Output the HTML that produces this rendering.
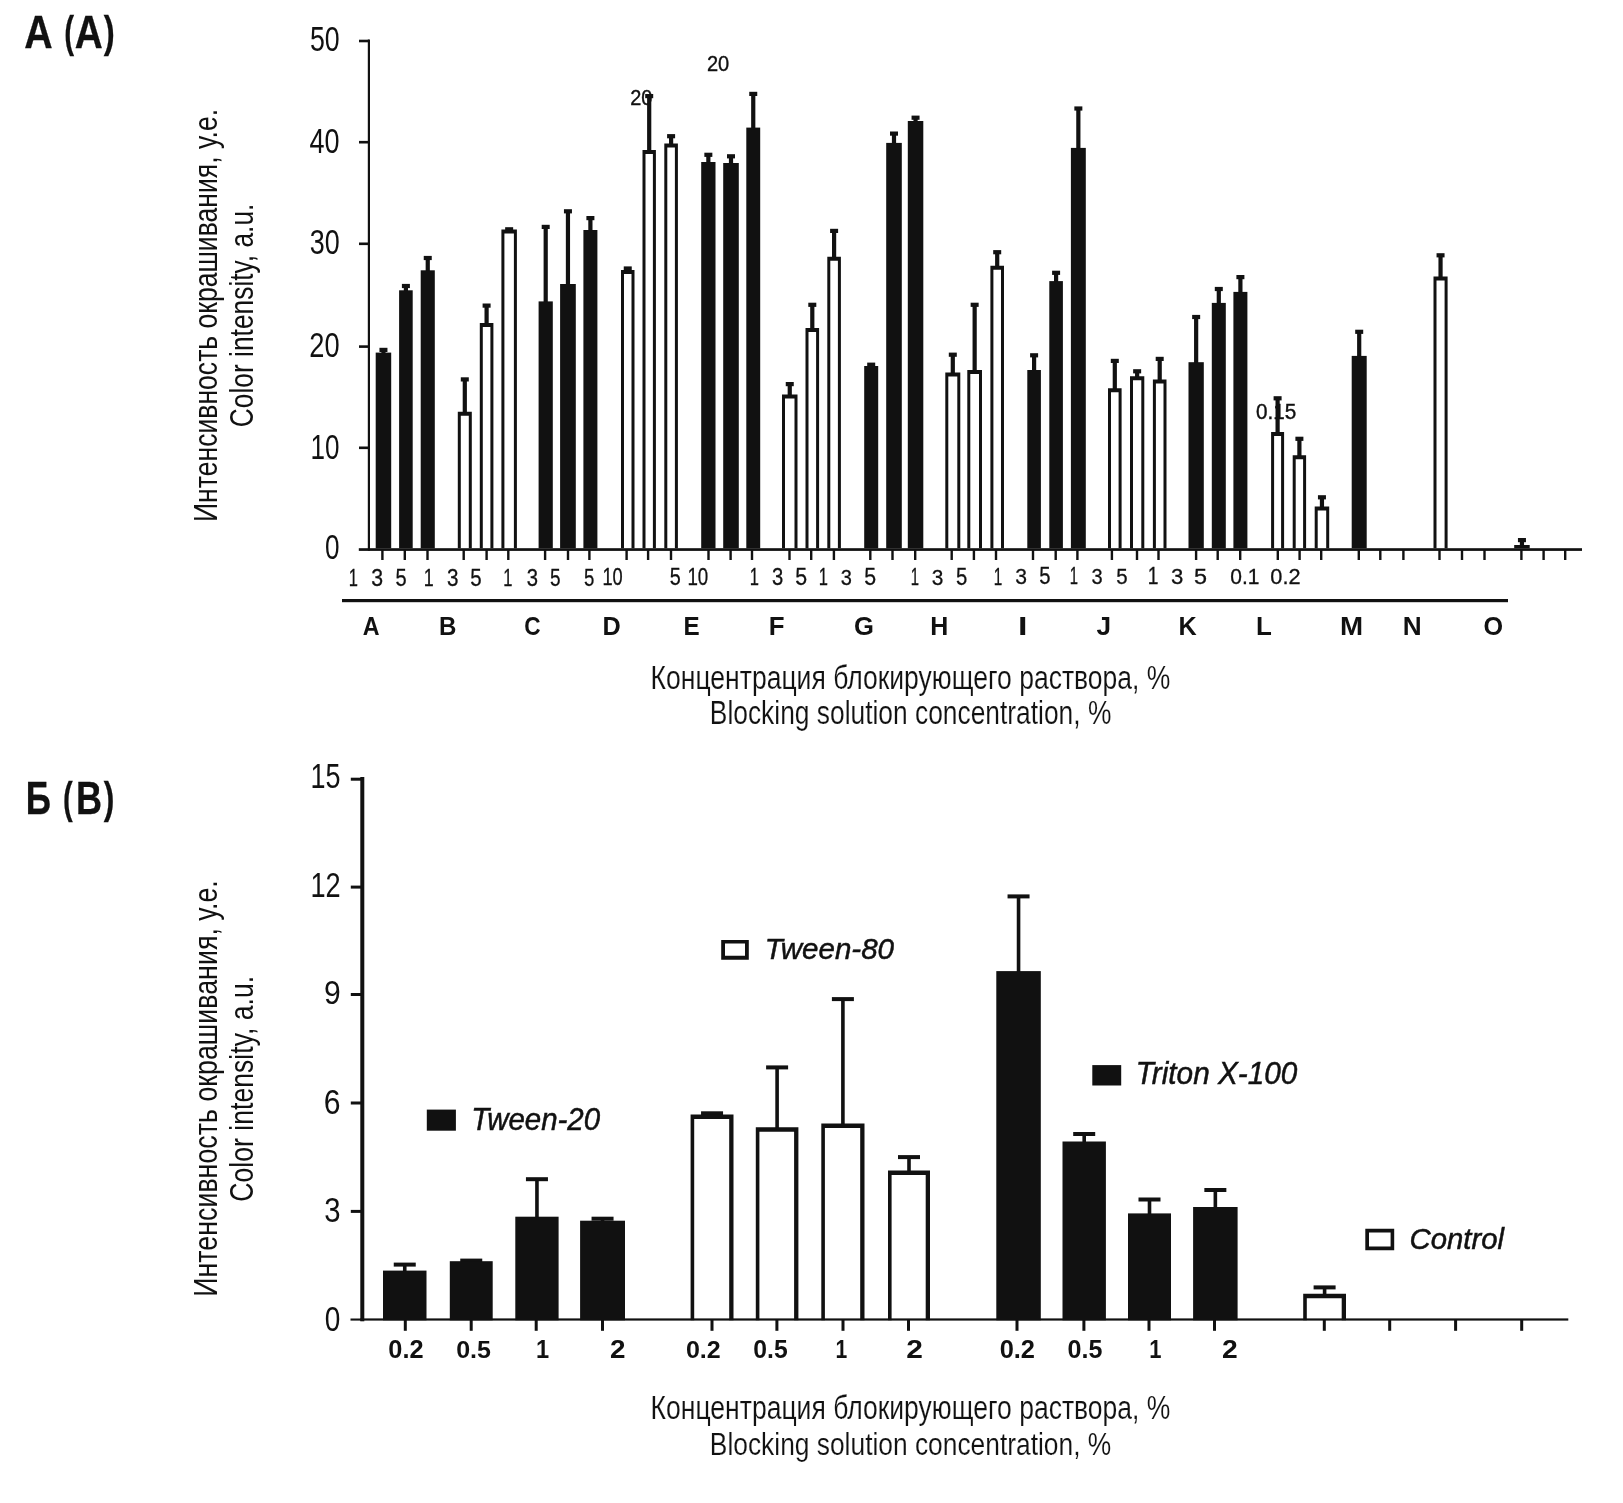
<!DOCTYPE html>
<html><head><meta charset="utf-8"><style>
html,body{margin:0;padding:0;background:#fff;}
svg{display:block;will-change:transform;}
text{font-family:"Liberation Sans",sans-serif;fill:#111;}
</style></head><body>
<svg width="1623" height="1503" viewBox="0 0 1623 1503">
<rect width="1623" height="1503" fill="#fff"/>
<text transform="translate(630.20,104.78) scale(0.9168,1)" font-size="21.75" font-weight="normal" font-style="normal" stroke="#111" stroke-width="0.4">20</text>
<text transform="translate(706.90,71.28) scale(0.9153,1)" font-size="21.89" font-weight="normal" font-style="normal" stroke="#111" stroke-width="0.4">20</text>
<text transform="translate(1256.09,418.89) scale(0.9704,1)" font-size="21.33" font-weight="normal" font-style="normal" stroke="#111" stroke-width="0.4">0.15</text>
<rect x="381.35" y="349.80" width="4.20" height="3.80" fill="#111"/>
<rect x="379.45" y="347.80" width="8.00" height="4.20" fill="#111"/>
<rect x="375.70" y="352.60" width="15.50" height="195.70" fill="#111"/>
<rect x="403.80" y="285.90" width="4.20" height="5.40" fill="#111"/>
<rect x="401.90" y="283.90" width="8.00" height="4.20" fill="#111"/>
<rect x="399.10" y="290.30" width="13.60" height="258.00" fill="#111"/>
<rect x="425.65" y="257.90" width="4.20" height="13.40" fill="#111"/>
<rect x="423.75" y="255.90" width="8.00" height="4.20" fill="#111"/>
<rect x="420.70" y="270.30" width="14.10" height="278.00" fill="#111"/>
<rect x="462.70" y="379.30" width="4.20" height="33.40" fill="#111"/>
<rect x="460.80" y="377.30" width="8.00" height="4.20" fill="#111"/>
<path fill="#111" fill-rule="evenodd" d="M457.80 411.70H471.80V548.30H457.80Z M460.80 415.70H468.80V548.30H460.80Z"/>
<rect x="484.50" y="305.50" width="4.20" height="18.60" fill="#111"/>
<rect x="482.60" y="303.50" width="8.00" height="4.20" fill="#111"/>
<path fill="#111" fill-rule="evenodd" d="M479.80 323.10H493.40V548.30H479.80Z M482.80 327.10H490.40V548.30H482.80Z"/>
<rect x="507.05" y="229.20" width="4.20" height="1.40" fill="#111"/>
<rect x="505.15" y="227.20" width="8.00" height="4.20" fill="#111"/>
<path fill="#111" fill-rule="evenodd" d="M501.40 229.60H516.90V548.30H501.40Z M504.40 233.60H513.90V548.30H504.40Z"/>
<rect x="543.60" y="226.80" width="4.20" height="75.60" fill="#111"/>
<rect x="541.70" y="224.80" width="8.00" height="4.20" fill="#111"/>
<rect x="538.60" y="301.40" width="14.20" height="246.90" fill="#111"/>
<rect x="565.85" y="211.20" width="4.20" height="73.80" fill="#111"/>
<rect x="563.95" y="209.20" width="8.00" height="4.20" fill="#111"/>
<rect x="560.10" y="284.00" width="15.70" height="264.30" fill="#111"/>
<rect x="588.30" y="218.00" width="4.20" height="13.00" fill="#111"/>
<rect x="586.40" y="216.00" width="8.00" height="4.20" fill="#111"/>
<rect x="583.40" y="230.00" width="14.00" height="318.30" fill="#111"/>
<rect x="625.65" y="268.40" width="4.20" height="2.60" fill="#111"/>
<rect x="623.75" y="266.40" width="8.00" height="4.20" fill="#111"/>
<path fill="#111" fill-rule="evenodd" d="M621.00 270.00H634.50V548.30H621.00Z M624.00 274.00H631.50V548.30H624.00Z"/>
<rect x="647.10" y="96.00" width="4.20" height="55.00" fill="#111"/>
<rect x="645.20" y="94.00" width="8.00" height="4.20" fill="#111"/>
<path fill="#111" fill-rule="evenodd" d="M642.50 150.00H655.90V548.30H642.50Z M645.50 154.00H652.90V548.30H645.50Z"/>
<rect x="669.00" y="136.10" width="4.20" height="8.30" fill="#111"/>
<rect x="667.10" y="134.10" width="8.00" height="4.20" fill="#111"/>
<path fill="#111" fill-rule="evenodd" d="M664.30 143.40H677.90V548.30H664.30Z M667.30 147.40H674.90V548.30H667.30Z"/>
<rect x="706.25" y="154.70" width="4.20" height="8.30" fill="#111"/>
<rect x="704.35" y="152.70" width="8.00" height="4.20" fill="#111"/>
<rect x="701.20" y="162.00" width="14.30" height="386.30" fill="#111"/>
<rect x="728.90" y="156.20" width="4.20" height="7.80" fill="#111"/>
<rect x="727.00" y="154.20" width="8.00" height="4.20" fill="#111"/>
<rect x="723.20" y="163.00" width="15.60" height="385.30" fill="#111"/>
<rect x="751.15" y="93.80" width="4.20" height="34.80" fill="#111"/>
<rect x="749.25" y="91.80" width="8.00" height="4.20" fill="#111"/>
<rect x="746.30" y="127.60" width="13.90" height="420.70" fill="#111"/>
<rect x="787.65" y="384.00" width="4.20" height="11.50" fill="#111"/>
<rect x="785.75" y="382.00" width="8.00" height="4.20" fill="#111"/>
<path fill="#111" fill-rule="evenodd" d="M782.00 394.50H797.50V548.30H782.00Z M785.00 398.50H794.50V548.30H785.00Z"/>
<rect x="810.20" y="304.70" width="4.20" height="24.30" fill="#111"/>
<rect x="808.30" y="302.70" width="8.00" height="4.20" fill="#111"/>
<path fill="#111" fill-rule="evenodd" d="M805.50 328.00H819.10V548.30H805.50Z M808.50 332.00H816.10V548.30H808.50Z"/>
<rect x="832.00" y="230.80" width="4.20" height="26.90" fill="#111"/>
<rect x="830.10" y="228.80" width="8.00" height="4.20" fill="#111"/>
<path fill="#111" fill-rule="evenodd" d="M827.30 256.70H840.90V548.30H827.30Z M830.30 260.70H837.90V548.30H830.30Z"/>
<rect x="869.10" y="364.60" width="4.20" height="2.40" fill="#111"/>
<rect x="867.20" y="362.60" width="8.00" height="4.20" fill="#111"/>
<rect x="864.20" y="366.00" width="14.00" height="182.30" fill="#111"/>
<rect x="891.90" y="133.50" width="4.20" height="10.40" fill="#111"/>
<rect x="890.00" y="131.50" width="8.00" height="4.20" fill="#111"/>
<rect x="886.20" y="142.90" width="15.60" height="405.40" fill="#111"/>
<rect x="913.45" y="117.60" width="4.20" height="4.40" fill="#111"/>
<rect x="911.55" y="115.60" width="8.00" height="4.20" fill="#111"/>
<rect x="907.80" y="121.00" width="15.50" height="427.30" fill="#111"/>
<rect x="950.70" y="354.60" width="4.20" height="19.00" fill="#111"/>
<rect x="948.80" y="352.60" width="8.00" height="4.20" fill="#111"/>
<path fill="#111" fill-rule="evenodd" d="M945.30 372.60H960.30V548.30H945.30Z M948.30 376.60H957.30V548.30H948.30Z"/>
<rect x="972.55" y="304.70" width="4.20" height="66.30" fill="#111"/>
<rect x="970.65" y="302.70" width="8.00" height="4.20" fill="#111"/>
<path fill="#111" fill-rule="evenodd" d="M967.30 370.00H982.00V548.30H967.30Z M970.30 374.00H979.00V548.30H970.30Z"/>
<rect x="995.10" y="252.10" width="4.20" height="14.60" fill="#111"/>
<rect x="993.20" y="250.10" width="8.00" height="4.20" fill="#111"/>
<path fill="#111" fill-rule="evenodd" d="M990.40 265.70H1004.00V548.30H990.40Z M993.40 269.70H1001.00V548.30H993.40Z"/>
<rect x="1032.00" y="355.20" width="4.20" height="15.80" fill="#111"/>
<rect x="1030.10" y="353.20" width="8.00" height="4.20" fill="#111"/>
<rect x="1027.30" y="370.00" width="13.60" height="178.30" fill="#111"/>
<rect x="1054.00" y="272.70" width="4.20" height="9.40" fill="#111"/>
<rect x="1052.10" y="270.70" width="8.00" height="4.20" fill="#111"/>
<rect x="1049.30" y="281.10" width="13.60" height="267.20" fill="#111"/>
<rect x="1076.25" y="108.40" width="4.20" height="40.50" fill="#111"/>
<rect x="1074.35" y="106.40" width="8.00" height="4.20" fill="#111"/>
<rect x="1070.90" y="147.90" width="14.90" height="400.40" fill="#111"/>
<rect x="1112.70" y="360.80" width="4.20" height="28.40" fill="#111"/>
<rect x="1110.80" y="358.80" width="8.00" height="4.20" fill="#111"/>
<path fill="#111" fill-rule="evenodd" d="M1108.00 388.20H1121.60V548.30H1108.00Z M1111.00 392.20H1118.60V548.30H1111.00Z"/>
<rect x="1135.05" y="371.20" width="4.20" height="6.00" fill="#111"/>
<rect x="1133.15" y="369.20" width="8.00" height="4.20" fill="#111"/>
<path fill="#111" fill-rule="evenodd" d="M1130.00 376.20H1144.30V548.30H1130.00Z M1133.00 380.20H1141.30V548.30H1133.00Z"/>
<rect x="1157.60" y="358.80" width="4.20" height="21.60" fill="#111"/>
<rect x="1155.70" y="356.80" width="8.00" height="4.20" fill="#111"/>
<path fill="#111" fill-rule="evenodd" d="M1152.90 379.40H1166.50V548.30H1152.90Z M1155.90 383.40H1163.50V548.30H1155.90Z"/>
<rect x="1194.05" y="316.90" width="4.20" height="46.30" fill="#111"/>
<rect x="1192.15" y="314.90" width="8.00" height="4.20" fill="#111"/>
<rect x="1188.50" y="362.20" width="15.30" height="186.10" fill="#111"/>
<rect x="1216.70" y="288.90" width="4.20" height="15.00" fill="#111"/>
<rect x="1214.80" y="286.90" width="8.00" height="4.20" fill="#111"/>
<rect x="1211.80" y="302.90" width="14.00" height="245.40" fill="#111"/>
<rect x="1238.30" y="277.00" width="4.20" height="15.90" fill="#111"/>
<rect x="1236.40" y="275.00" width="8.00" height="4.20" fill="#111"/>
<rect x="1233.40" y="291.90" width="14.00" height="256.40" fill="#111"/>
<rect x="1275.50" y="398.20" width="4.20" height="34.90" fill="#111"/>
<rect x="1273.60" y="396.20" width="8.00" height="4.20" fill="#111"/>
<path fill="#111" fill-rule="evenodd" d="M1271.10 432.10H1284.10V548.30H1271.10Z M1274.10 436.10H1281.10V548.30H1274.10Z"/>
<rect x="1297.30" y="438.70" width="4.20" height="17.60" fill="#111"/>
<rect x="1295.40" y="436.70" width="8.00" height="4.20" fill="#111"/>
<path fill="#111" fill-rule="evenodd" d="M1292.70 455.30H1306.10V548.30H1292.70Z M1295.70 459.30H1303.10V548.30H1295.70Z"/>
<rect x="1319.85" y="497.20" width="4.20" height="10.40" fill="#111"/>
<rect x="1317.95" y="495.20" width="8.00" height="4.20" fill="#111"/>
<path fill="#111" fill-rule="evenodd" d="M1314.70 506.60H1329.20V548.30H1314.70Z M1317.70 510.60H1326.20V548.30H1317.70Z"/>
<rect x="1357.10" y="331.70" width="4.20" height="25.20" fill="#111"/>
<rect x="1355.20" y="329.70" width="8.00" height="4.20" fill="#111"/>
<rect x="1351.70" y="355.90" width="15.00" height="192.40" fill="#111"/>
<rect x="1438.45" y="255.20" width="4.20" height="22.40" fill="#111"/>
<rect x="1436.55" y="253.20" width="8.00" height="4.20" fill="#111"/>
<path fill="#111" fill-rule="evenodd" d="M1433.50 276.60H1447.60V548.30H1433.50Z M1436.50 280.60H1444.60V548.30H1436.50Z"/>
<rect x="1519.85" y="540.00" width="4.20" height="6.00" fill="#111"/>
<rect x="1517.95" y="538.00" width="8.00" height="4.20" fill="#111"/>
<rect x="1514.20" y="545.00" width="15.50" height="3.30" fill="#111"/>
<rect x="367.80" y="39.50" width="2.20" height="511.30" fill="#111"/>
<rect x="358.80" y="548.20" width="1223.20" height="2.70" fill="#111"/>
<rect x="359.00" y="39.70" width="10.00" height="2.60" fill="#111"/>
<rect x="359.00" y="140.90" width="10.00" height="2.60" fill="#111"/>
<rect x="359.00" y="242.50" width="10.00" height="2.60" fill="#111"/>
<rect x="359.00" y="345.30" width="10.00" height="2.60" fill="#111"/>
<rect x="359.00" y="446.50" width="10.00" height="2.60" fill="#111"/>
<rect x="381.20" y="550.00" width="2.40" height="10.00" fill="#111"/>
<rect x="403.60" y="550.00" width="2.40" height="10.00" fill="#111"/>
<rect x="426.30" y="550.00" width="2.40" height="10.00" fill="#111"/>
<rect x="462.50" y="550.00" width="2.40" height="10.00" fill="#111"/>
<rect x="485.40" y="550.00" width="2.40" height="10.00" fill="#111"/>
<rect x="507.10" y="550.00" width="2.40" height="10.00" fill="#111"/>
<rect x="543.90" y="550.00" width="2.40" height="10.00" fill="#111"/>
<rect x="566.80" y="550.00" width="2.40" height="10.00" fill="#111"/>
<rect x="588.20" y="550.00" width="2.40" height="10.00" fill="#111"/>
<rect x="625.40" y="550.00" width="2.40" height="10.00" fill="#111"/>
<rect x="646.90" y="550.00" width="2.40" height="10.00" fill="#111"/>
<rect x="669.80" y="550.00" width="2.40" height="10.00" fill="#111"/>
<rect x="707.30" y="550.00" width="2.40" height="10.00" fill="#111"/>
<rect x="729.40" y="550.00" width="2.40" height="10.00" fill="#111"/>
<rect x="750.80" y="550.00" width="2.40" height="10.00" fill="#111"/>
<rect x="788.30" y="550.00" width="2.40" height="10.00" fill="#111"/>
<rect x="810.00" y="550.00" width="2.40" height="10.00" fill="#111"/>
<rect x="832.70" y="550.00" width="2.40" height="10.00" fill="#111"/>
<rect x="869.10" y="550.00" width="2.40" height="10.00" fill="#111"/>
<rect x="891.30" y="550.00" width="2.40" height="10.00" fill="#111"/>
<rect x="914.00" y="550.00" width="2.40" height="10.00" fill="#111"/>
<rect x="950.50" y="550.00" width="2.40" height="10.00" fill="#111"/>
<rect x="972.70" y="550.00" width="2.40" height="10.00" fill="#111"/>
<rect x="994.80" y="550.00" width="2.40" height="10.00" fill="#111"/>
<rect x="1031.80" y="550.00" width="2.40" height="10.00" fill="#111"/>
<rect x="1054.50" y="550.00" width="2.40" height="10.00" fill="#111"/>
<rect x="1076.20" y="550.00" width="2.40" height="10.00" fill="#111"/>
<rect x="1110.70" y="550.00" width="2.40" height="10.00" fill="#111"/>
<rect x="1135.80" y="550.00" width="2.40" height="10.00" fill="#111"/>
<rect x="1157.30" y="550.00" width="2.40" height="10.00" fill="#111"/>
<rect x="1194.90" y="550.00" width="2.40" height="10.00" fill="#111"/>
<rect x="1216.50" y="550.00" width="2.40" height="10.00" fill="#111"/>
<rect x="1239.00" y="550.00" width="2.40" height="10.00" fill="#111"/>
<rect x="1276.60" y="550.00" width="2.40" height="10.00" fill="#111"/>
<rect x="1298.40" y="550.00" width="2.40" height="10.00" fill="#111"/>
<rect x="1320.00" y="550.00" width="2.40" height="10.00" fill="#111"/>
<rect x="1357.60" y="550.00" width="2.40" height="10.00" fill="#111"/>
<rect x="1379.10" y="550.00" width="2.40" height="10.00" fill="#111"/>
<rect x="1402.20" y="550.00" width="2.40" height="10.00" fill="#111"/>
<rect x="1438.30" y="550.00" width="2.40" height="10.00" fill="#111"/>
<rect x="1460.80" y="550.00" width="2.40" height="10.00" fill="#111"/>
<rect x="1483.30" y="550.00" width="2.40" height="10.00" fill="#111"/>
<rect x="1520.20" y="550.00" width="2.40" height="10.00" fill="#111"/>
<rect x="1542.40" y="550.00" width="2.40" height="10.00" fill="#111"/>
<rect x="1564.00" y="550.00" width="2.40" height="10.00" fill="#111"/>
<rect x="342.00" y="599.00" width="1166.00" height="3.20" fill="#111"/>
<text transform="translate(309.93,50.65) scale(0.7567,1)" font-size="35.31" font-weight="normal" font-style="normal">50</text>
<text transform="translate(309.58,152.74) scale(0.7599,1)" font-size="35.59" font-weight="normal" font-style="normal">40</text>
<text transform="translate(309.68,254.15) scale(0.7758,1)" font-size="34.75" font-weight="normal" font-style="normal">30</text>
<text transform="translate(309.34,356.65) scale(0.7693,1)" font-size="35.45" font-weight="normal" font-style="normal">20</text>
<text transform="translate(310.62,458.64) scale(0.7327,1)" font-size="35.59" font-weight="normal" font-style="normal">10</text>
<text transform="translate(325.08,559.26) scale(0.7588,1)" font-size="34.46" font-weight="normal" font-style="normal">0</text>
<text transform="translate(348.80,586.44) scale(0.6788,1)" font-size="24.27" font-weight="normal" font-style="normal" stroke="#111" stroke-width="0.3">1</text>
<text transform="translate(371.34,586.14) scale(0.9047,1)" font-size="23.55" font-weight="normal" font-style="normal" stroke="#111" stroke-width="0.3">3</text>
<text transform="translate(395.55,586.07) scale(0.8400,1)" font-size="23.86" font-weight="normal" font-style="normal" stroke="#111" stroke-width="0.3">5</text>
<text transform="translate(423.79,586.23) scale(0.7391,1)" font-size="24.17" font-weight="normal" font-style="normal" stroke="#111" stroke-width="0.3">1</text>
<text transform="translate(447.06,585.93) scale(0.8813,1)" font-size="23.46" font-weight="normal" font-style="normal" stroke="#111" stroke-width="0.3">3</text>
<text transform="translate(470.33,585.86) scale(0.8611,1)" font-size="23.77" font-weight="normal" font-style="normal" stroke="#111" stroke-width="0.3">5</text>
<text transform="translate(503.30,586.01) scale(0.6844,1)" font-size="24.07" font-weight="normal" font-style="normal" stroke="#111" stroke-width="0.3">1</text>
<text transform="translate(526.68,585.71) scale(0.8670,1)" font-size="23.36" font-weight="normal" font-style="normal" stroke="#111" stroke-width="0.3">3</text>
<text transform="translate(550.09,585.64) scale(0.8024,1)" font-size="23.66" font-weight="normal" font-style="normal" stroke="#111" stroke-width="0.3">5</text>
<text transform="translate(584.11,585.55) scale(0.7860,1)" font-size="23.62" font-weight="normal" font-style="normal" stroke="#111" stroke-width="0.3">5</text>
<text transform="translate(602.46,585.49) scale(0.7849,1)" font-size="23.26" font-weight="normal" font-style="normal" stroke="#111" stroke-width="0.3">10</text>
<text transform="translate(669.66,585.31) scale(0.8435,1)" font-size="23.51" font-weight="normal" font-style="normal" stroke="#111" stroke-width="0.3">5</text>
<text transform="translate(687.42,585.25) scale(0.8102,1)" font-size="23.15" font-weight="normal" font-style="normal" stroke="#111" stroke-width="0.3">10</text>
<text transform="translate(749.70,585.33) scale(0.6936,1)" font-size="23.75" font-weight="normal" font-style="normal" stroke="#111" stroke-width="0.3">1</text>
<text transform="translate(771.88,585.03) scale(0.8786,1)" font-size="23.05" font-weight="normal" font-style="normal" stroke="#111" stroke-width="0.3">3</text>
<text transform="translate(795.20,584.96) scale(0.9125,1)" font-size="23.35" font-weight="normal" font-style="normal" stroke="#111" stroke-width="0.3">5</text>
<text transform="translate(818.70,585.13) scale(0.6962,1)" font-size="23.66" font-weight="normal" font-style="normal" stroke="#111" stroke-width="0.3">1</text>
<text transform="translate(840.69,584.84) scale(0.8727,1)" font-size="22.96" font-weight="normal" font-style="normal" stroke="#111" stroke-width="0.3">3</text>
<text transform="translate(864.20,584.77) scale(0.9160,1)" font-size="23.26" font-weight="normal" font-style="normal" stroke="#111" stroke-width="0.3">5</text>
<text transform="translate(910.72,584.88) scale(0.6307,1)" font-size="23.54" font-weight="normal" font-style="normal" stroke="#111" stroke-width="0.3">1</text>
<text transform="translate(931.76,584.59) scale(0.9141,1)" font-size="22.85" font-weight="normal" font-style="normal" stroke="#111" stroke-width="0.3">3</text>
<text transform="translate(955.94,584.52) scale(0.8750,1)" font-size="23.15" font-weight="normal" font-style="normal" stroke="#111" stroke-width="0.3">5</text>
<text transform="translate(993.79,584.65) scale(0.6534,1)" font-size="23.44" font-weight="normal" font-style="normal" stroke="#111" stroke-width="0.3">1</text>
<text transform="translate(1015.15,584.36) scale(0.9275,1)" font-size="22.75" font-weight="normal" font-style="normal" stroke="#111" stroke-width="0.3">3</text>
<text transform="translate(1039.24,584.29) scale(0.8790,1)" font-size="23.04" font-weight="normal" font-style="normal" stroke="#111" stroke-width="0.3">5</text>
<text transform="translate(1069.72,584.44) scale(0.6363,1)" font-size="23.34" font-weight="normal" font-style="normal" stroke="#111" stroke-width="0.3">1</text>
<text transform="translate(1091.59,584.15) scale(0.8849,1)" font-size="22.65" font-weight="normal" font-style="normal" stroke="#111" stroke-width="0.3">3</text>
<text transform="translate(1116.33,584.08) scale(0.8920,1)" font-size="22.94" font-weight="normal" font-style="normal" stroke="#111" stroke-width="0.3">5</text>
<text transform="translate(1147.69,584.22) scale(0.8288,1)" font-size="23.24" font-weight="normal" font-style="normal" stroke="#111" stroke-width="0.3">1</text>
<text transform="translate(1171.11,583.93) scale(0.9824,1)" font-size="22.55" font-weight="normal" font-style="normal" stroke="#111" stroke-width="0.3">3</text>
<text transform="translate(1194.11,583.86) scale(1.0252,1)" font-size="22.84" font-weight="normal" font-style="normal" stroke="#111" stroke-width="0.3">5</text>
<text transform="translate(1230.33,583.74) scale(0.9368,1)" font-size="22.46" font-weight="normal" font-style="normal" stroke="#111" stroke-width="0.3">0.1</text>
<text transform="translate(1270.30,583.63) scale(0.9705,1)" font-size="22.41" font-weight="normal" font-style="normal" stroke="#111" stroke-width="0.3">0.2</text>
<text transform="translate(362.82,634.80) scale(0.8986,1)" font-size="25.87" font-weight="bold" font-style="normal">A</text>
<text transform="translate(438.99,634.80) scale(0.9314,1)" font-size="25.87" font-weight="bold" font-style="normal">B</text>
<text transform="translate(524.37,634.80) scale(0.8747,1)" font-size="25.87" font-weight="bold" font-style="normal">C</text>
<text transform="translate(602.51,634.80) scale(0.9773,1)" font-size="25.87" font-weight="bold" font-style="normal">D</text>
<text transform="translate(683.38,634.80) scale(0.9370,1)" font-size="25.87" font-weight="bold" font-style="normal">E</text>
<text transform="translate(768.77,634.80) scale(0.9987,1)" font-size="25.87" font-weight="bold" font-style="normal">F</text>
<text transform="translate(853.95,634.80) scale(0.9906,1)" font-size="25.87" font-weight="bold" font-style="normal">G</text>
<text transform="translate(930.33,634.80) scale(0.9663,1)" font-size="25.87" font-weight="bold" font-style="normal">H</text>
<text transform="translate(1017.92,634.80) scale(1.3152,1)" font-size="25.87" font-weight="bold" font-style="normal">I</text>
<text transform="translate(1096.61,634.80) scale(1.0133,1)" font-size="25.87" font-weight="bold" font-style="normal">J</text>
<text transform="translate(1178.41,634.80) scale(0.9768,1)" font-size="25.87" font-weight="bold" font-style="normal">K</text>
<text transform="translate(1255.96,634.80) scale(1.0021,1)" font-size="25.87" font-weight="bold" font-style="normal">L</text>
<text transform="translate(1339.94,634.80) scale(1.0727,1)" font-size="25.87" font-weight="bold" font-style="normal">M</text>
<text transform="translate(1402.65,634.80) scale(1.0123,1)" font-size="25.87" font-weight="bold" font-style="normal">N</text>
<text transform="translate(1483.47,634.80) scale(0.9732,1)" font-size="25.87" font-weight="bold" font-style="normal">O</text>
<text transform="translate(24.32,47.60) scale(0.8380,1)" font-size="46.95" font-weight="bold" font-style="normal" stroke="#111" stroke-width="0.3">A</text>
<text transform="translate(64.13,47.32) scale(0.6665,1)" font-size="44.16" font-weight="bold" font-style="normal" stroke="#111" stroke-width="0.3">(</text>
<text transform="translate(74.63,47.60) scale(0.8253,1)" font-size="46.95" font-weight="bold" font-style="normal" stroke="#111" stroke-width="0.3">A</text>
<text transform="translate(103.67,47.32) scale(0.7468,1)" font-size="44.16" font-weight="bold" font-style="normal" stroke="#111" stroke-width="0.3">)</text>
<text transform="translate(650.62,689.00) scale(0.7868,1)" font-size="33.72" font-weight="normal" font-style="normal" stroke="#fff" stroke-width="0.15">Концентрация блокирующего раствора, %</text>
<text transform="translate(709.84,724.00) scale(0.7991,1)" font-size="32.99" font-weight="normal" font-style="normal" stroke="#fff" stroke-width="0.15">Blocking solution concentration, %</text>
<text transform="translate(217.00,521.98) rotate(-90) scale(0.7990,1)" font-size="33.28">Интенсивность окрашивания, у.е.</text>
<text transform="translate(252.60,427.24) rotate(-90) scale(0.7953,1)" font-size="33.14">Color intensity, a.u.</text>
<text transform="translate(25.85,813.50) scale(0.7515,1)" font-size="46.66" font-weight="bold" font-style="normal" stroke="#111" stroke-width="0.3">Б</text>
<text transform="translate(63.05,813.42) scale(0.6585,1)" font-size="44.16" font-weight="bold" font-style="normal" stroke="#111" stroke-width="0.3">(</text>
<text transform="translate(76.08,813.50) scale(0.7730,1)" font-size="46.66" font-weight="bold" font-style="normal" stroke="#111" stroke-width="0.3">В</text>
<text transform="translate(103.67,813.42) scale(0.7227,1)" font-size="44.16" font-weight="bold" font-style="normal" stroke="#111" stroke-width="0.3">)</text>
<rect x="360.30" y="777.00" width="4.00" height="544.30" fill="#111"/>
<rect x="360.30" y="1318.40" width="1208.00" height="2.20" fill="#111"/>
<rect x="350.80" y="777.70" width="11.20" height="3.00" fill="#111"/>
<rect x="350.80" y="885.60" width="11.20" height="3.00" fill="#111"/>
<rect x="350.80" y="993.00" width="11.20" height="3.00" fill="#111"/>
<rect x="350.80" y="1101.50" width="11.20" height="3.00" fill="#111"/>
<rect x="350.80" y="1209.90" width="11.20" height="3.00" fill="#111"/>
<rect x="350.50" y="1318.50" width="11.50" height="2.10" fill="#111"/>
<rect x="403.80" y="1320.00" width="3.00" height="10.80" fill="#111"/>
<rect x="469.70" y="1320.00" width="3.00" height="10.80" fill="#111"/>
<rect x="534.70" y="1320.00" width="3.00" height="10.80" fill="#111"/>
<rect x="601.00" y="1320.00" width="3.00" height="10.80" fill="#111"/>
<rect x="710.50" y="1320.00" width="3.00" height="10.80" fill="#111"/>
<rect x="775.40" y="1320.00" width="3.00" height="10.80" fill="#111"/>
<rect x="841.50" y="1320.00" width="3.00" height="10.80" fill="#111"/>
<rect x="907.00" y="1320.00" width="3.00" height="10.80" fill="#111"/>
<rect x="1015.50" y="1320.00" width="3.00" height="10.80" fill="#111"/>
<rect x="1082.40" y="1320.00" width="3.00" height="10.80" fill="#111"/>
<rect x="1147.50" y="1320.00" width="3.00" height="10.80" fill="#111"/>
<rect x="1213.00" y="1320.00" width="3.00" height="10.80" fill="#111"/>
<rect x="1322.80" y="1320.00" width="3.00" height="10.80" fill="#111"/>
<rect x="1388.20" y="1320.00" width="3.00" height="10.80" fill="#111"/>
<rect x="1454.10" y="1320.00" width="3.00" height="10.80" fill="#111"/>
<rect x="1520.20" y="1320.00" width="3.00" height="10.80" fill="#111"/>
<rect x="402.95" y="1264.60" width="3.60" height="7.00" fill="#111"/>
<rect x="393.75" y="1262.60" width="22.00" height="4.00" fill="#111"/>
<rect x="383.00" y="1270.60" width="43.50" height="49.70" fill="#111"/>
<rect x="469.45" y="1260.60" width="3.60" height="1.60" fill="#111"/>
<rect x="460.25" y="1258.60" width="22.00" height="4.00" fill="#111"/>
<rect x="449.80" y="1261.20" width="42.90" height="59.10" fill="#111"/>
<rect x="535.15" y="1179.20" width="3.60" height="38.50" fill="#111"/>
<rect x="525.95" y="1177.20" width="22.00" height="4.00" fill="#111"/>
<rect x="515.30" y="1216.70" width="43.30" height="103.60" fill="#111"/>
<rect x="600.75" y="1218.70" width="3.60" height="3.00" fill="#111"/>
<rect x="591.55" y="1216.70" width="22.00" height="4.00" fill="#111"/>
<rect x="580.10" y="1220.70" width="44.90" height="99.60" fill="#111"/>
<rect x="710.25" y="1113.30" width="3.60" height="2.10" fill="#111"/>
<rect x="701.05" y="1111.30" width="22.00" height="4.00" fill="#111"/>
<path fill="#111" fill-rule="evenodd" d="M690.60 1114.40H733.50V1320.30H690.60Z M694.20 1118.90H729.20V1320.30H694.20Z"/>
<rect x="775.30" y="1067.40" width="3.60" height="60.80" fill="#111"/>
<rect x="766.10" y="1065.40" width="22.00" height="4.00" fill="#111"/>
<path fill="#111" fill-rule="evenodd" d="M755.80 1127.20H798.40V1320.30H755.80Z M759.40 1131.70H794.10V1320.30H759.40Z"/>
<rect x="841.10" y="999.10" width="3.60" height="125.40" fill="#111"/>
<rect x="831.90" y="997.10" width="22.00" height="4.00" fill="#111"/>
<path fill="#111" fill-rule="evenodd" d="M821.30 1123.50H864.50V1320.30H821.30Z M824.90 1128.00H860.20V1320.30H824.90Z"/>
<rect x="907.20" y="1157.10" width="3.60" height="14.30" fill="#111"/>
<rect x="898.00" y="1155.10" width="22.00" height="4.00" fill="#111"/>
<path fill="#111" fill-rule="evenodd" d="M888.00 1170.40H930.00V1320.30H888.00Z M891.60 1174.90H925.70V1320.30H891.60Z"/>
<rect x="1016.75" y="896.40" width="3.60" height="75.70" fill="#111"/>
<rect x="1007.55" y="894.40" width="22.00" height="4.00" fill="#111"/>
<rect x="996.30" y="971.10" width="44.50" height="349.20" fill="#111"/>
<rect x="1082.40" y="1134.00" width="3.60" height="8.50" fill="#111"/>
<rect x="1073.20" y="1132.00" width="22.00" height="4.00" fill="#111"/>
<rect x="1062.50" y="1141.50" width="43.40" height="178.80" fill="#111"/>
<rect x="1147.70" y="1199.50" width="3.60" height="14.90" fill="#111"/>
<rect x="1138.50" y="1197.50" width="22.00" height="4.00" fill="#111"/>
<rect x="1128.00" y="1213.40" width="43.00" height="106.90" fill="#111"/>
<rect x="1213.55" y="1190.00" width="3.60" height="18.00" fill="#111"/>
<rect x="1204.35" y="1188.00" width="22.00" height="4.00" fill="#111"/>
<rect x="1193.10" y="1207.00" width="44.50" height="113.30" fill="#111"/>
<rect x="1322.80" y="1287.40" width="3.60" height="7.40" fill="#111"/>
<rect x="1313.60" y="1285.40" width="22.00" height="4.00" fill="#111"/>
<path fill="#111" fill-rule="evenodd" d="M1303.20 1293.80H1346.00V1320.30H1303.20Z M1306.80 1298.30H1341.70V1320.30H1306.80Z"/>
<text transform="translate(310.45,787.64) scale(0.7528,1)" font-size="35.82" font-weight="normal" font-style="normal">15</text>
<text transform="translate(310.43,896.90) scale(0.7589,1)" font-size="35.82" font-weight="normal" font-style="normal">12</text>
<text transform="translate(323.99,1004.36) scale(0.8950,1)" font-size="33.62" font-weight="normal" font-style="normal">9</text>
<text transform="translate(323.86,1113.65) scale(0.8678,1)" font-size="34.75" font-weight="normal" font-style="normal">6</text>
<text transform="translate(324.29,1222.15) scale(0.8440,1)" font-size="34.75" font-weight="normal" font-style="normal">3</text>
<text transform="translate(324.81,1331.45) scale(0.8003,1)" font-size="35.03" font-weight="normal" font-style="normal">0</text>
<text transform="translate(388.29,1358.15) scale(1.0195,1)" font-size="24.86" font-weight="bold" font-style="normal">0.2</text>
<text transform="translate(456.20,1358.15) scale(1.0072,1)" font-size="24.86" font-weight="bold" font-style="normal">0.5</text>
<text transform="translate(536.11,1358.40) scale(0.9247,1)" font-size="25.58" font-weight="bold" font-style="normal">1</text>
<text transform="translate(610.12,1358.40) scale(1.1048,1)" font-size="25.21" font-weight="bold" font-style="normal">2</text>
<text transform="translate(685.90,1358.15) scale(1.0072,1)" font-size="24.86" font-weight="bold" font-style="normal">0.2</text>
<text transform="translate(753.31,1358.15) scale(0.9950,1)" font-size="24.86" font-weight="bold" font-style="normal">0.5</text>
<text transform="translate(835.57,1358.40) scale(0.8239,1)" font-size="25.58" font-weight="bold" font-style="normal">1</text>
<text transform="translate(906.25,1358.40) scale(1.1873,1)" font-size="25.21" font-weight="bold" font-style="normal">2</text>
<text transform="translate(999.68,1358.15) scale(1.0226,1)" font-size="24.86" font-weight="bold" font-style="normal">0.2</text>
<text transform="translate(1067.60,1358.15) scale(1.0102,1)" font-size="24.86" font-weight="bold" font-style="normal">0.5</text>
<text transform="translate(1149.32,1358.40) scale(0.8575,1)" font-size="25.58" font-weight="bold" font-style="normal">1</text>
<text transform="translate(1222.01,1358.40) scale(1.1213,1)" font-size="25.21" font-weight="bold" font-style="normal">2</text>
<rect x="426.80" y="1109.60" width="29.10" height="21.10" fill="#111"/>
<text transform="translate(471.35,1129.50) scale(0.9651,1)" font-size="30.52" font-weight="normal" font-style="italic" stroke="#111" stroke-width="0.5">Tween-20</text>
<path fill="#111" fill-rule="evenodd" d="M721.2 939.9H748.8V959.8H721.2Z M725.0 943.6H745.0V955.8H725.0Z"/>
<text transform="translate(764.84,959.40) scale(0.9869,1)" font-size="29.94" font-weight="normal" font-style="italic" stroke="#111" stroke-width="0.5">Tween-80</text>
<rect x="1092.30" y="1065.10" width="28.90" height="20.40" fill="#111"/>
<text transform="translate(1135.82,1084.10) scale(0.9663,1)" font-size="30.81" font-weight="normal" font-style="italic" stroke="#111" stroke-width="0.5">Triton X-100</text>
<path fill="#111" fill-rule="evenodd" d="M1365.3 1228.8H1394.2V1250.3H1365.3Z M1369.0 1232.4H1390.6V1246.4H1369.0Z"/>
<text transform="translate(1409.59,1249.10) scale(0.9980,1)" font-size="29.36" font-weight="normal" font-style="italic" stroke="#111" stroke-width="0.5">Control</text>
<text transform="translate(650.62,1419.00) scale(0.7868,1)" font-size="33.72" font-weight="normal" font-style="normal" stroke="#fff" stroke-width="0.15">Концентрация блокирующего раствора, %</text>
<text transform="translate(709.84,1454.50) scale(0.8171,1)" font-size="32.27" font-weight="normal" font-style="normal" stroke="#fff" stroke-width="0.15">Blocking solution concentration, %</text>
<text transform="translate(217.30,1296.70) rotate(-90) scale(0.8055,1)" font-size="33.28">Интенсивность окрашивания, у.е.</text>
<text transform="translate(252.60,1201.66) rotate(-90) scale(0.8032,1)" font-size="33.14">Color intensity, a.u.</text>
</svg></body></html>
